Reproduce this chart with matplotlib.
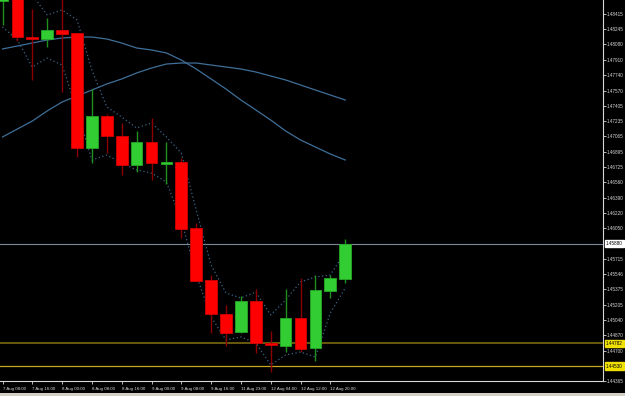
import matplotlib
matplotlib.use("Agg")
import matplotlib.pyplot as plt
import numpy as np

# ---------------- data ----------------
time_labels = ["7 Aug 08:00", "7 Aug 16:00", "8 Aug 00:00", "8 Aug 08:00", "8 Aug 16:00",
               "9 Aug 00:00", "9 Aug 08:00", "9 Aug 16:00", "11 Aug 23:00", "12 Aug 04:00",
               "12 Aug 12:00", "12 Aug 20:00"]
label_every = 2

opens  = [1.48558, 1.48680, 1.48161, 1.48139, 1.48238, 1.48205, 1.46936, 1.47289, 1.47069, 1.46749,
          1.47003, 1.46760, 1.46782, 1.46053, 1.45480, 1.45105, 1.44906, 1.45248, 1.44785, 1.44752,
          1.45060, 1.44730, 1.45358, 1.45491]
highs  = [1.48790, 1.48735, 1.48470, 1.48371, 1.48700, 1.48205, 1.47587, 1.47311, 1.47212, 1.47124,
          1.47267, 1.47003, 1.46826, 1.46109, 1.45535, 1.45204, 1.45303, 1.45380, 1.44917, 1.45380,
          1.45502, 1.45535, 1.45535, 1.45932]
lows   = [1.48294, 1.48117, 1.47687, 1.48051, 1.47554, 1.46837, 1.46771, 1.46881, 1.46638, 1.46671,
          1.46583, 1.46539, 1.45943, 1.45469, 1.44895, 1.44752, 1.44895, 1.44674, 1.44465, 1.44685,
          1.44685, 1.44586, 1.45281, 1.45447]
closes = [1.48735, 1.48161, 1.48139, 1.48238, 1.48194, 1.46936, 1.47289, 1.47069, 1.46749, 1.47003,
          1.46771, 1.46782, 1.46042, 1.45469, 1.45105, 1.44895, 1.45248, 1.44785, 1.44763, 1.45060,
          1.44719, 1.45369, 1.45502, 1.45880]

ma_a = [1.48029, 1.48062, 1.48095, 1.48128, 1.48150, 1.48161, 1.48161, 1.48139, 1.48095, 1.48040,
        1.48018, 1.47985, 1.47907, 1.47808, 1.47698, 1.47587, 1.47466, 1.47356, 1.47245, 1.47124,
        1.47025, 1.46947, 1.46870, 1.46804]
ma_b = [1.47058, 1.47146, 1.47234, 1.47345, 1.47444, 1.47510, 1.47576, 1.47643, 1.47698, 1.47764,
        1.47819, 1.47863, 1.47874, 1.47874, 1.47852, 1.47830, 1.47808, 1.47775, 1.47731, 1.47687,
        1.47632, 1.47576, 1.47521, 1.47466]
env_upper = [1.48790, 1.48735, 1.48625, 1.48404, 1.48459, 1.48349, 1.47797, 1.47389, 1.47278, 1.47157,
             1.47212, 1.47058, 1.46881, 1.46252, 1.45645, 1.45336, 1.45281, 1.45347, 1.45094, 1.45259,
             1.45458, 1.45513, 1.45535, 1.45789]
env_lower = [1.48272, 1.48128, 1.47830, 1.47929, 1.47852, 1.47356, 1.46804, 1.46859, 1.46771, 1.46694,
             1.46660, 1.46561, 1.46142, 1.45535, 1.45071, 1.44818, 1.44851, 1.44785, 1.44542, 1.44652,
             1.44685, 1.44630, 1.45115, 1.45391]

price_ticks = [1.48415, 1.48245, 1.48080, 1.47910, 1.47740, 1.47570, 1.47405, 1.47235, 1.47065,
               1.46895, 1.46725, 1.46560, 1.46390, 1.46220, 1.46050, 1.45715, 1.45546,
               1.45375, 1.45205, 1.45040, 1.44870, 1.44700, 1.44365]
current_price = 1.45880
level_1 = 1.44782
level_2 = 1.44530
y_bottom, y_top = 1.44365, 1.485695

# ---------------- figure ----------------
W, H = 625, 396
fig = plt.figure(figsize=(W / 100, H / 100), dpi=100, facecolor="black")
ax = fig.add_axes([0, 15 / H, 603 / W, 381 / H], facecolor="black")

n = len(opens)
x = np.arange(n)
o = np.array(opens); c = np.array(closes); h = np.array(highs); l = np.array(lows)
up = c >= o

# moving averages
ax.plot(x, ma_a, color="#3f6f98", lw=0.9, zorder=1)
ax.plot(x, ma_b, color="#3f6f98", lw=0.9, zorder=1)
# envelope dotted
ax.plot(x, env_upper, color="#3c6486", lw=0.9, ls=(0, (1, 2)), zorder=1)
ax.plot(x, env_lower, color="#3c6486", lw=0.9, ls=(0, (1, 2)), zorder=1)

# horizontal levels
ax.axhline(current_price, color="#7c8898", lw=0.8, zorder=0.5)
ax.axhline(level_1, color="#7a6a10", lw=1.2, zorder=0.5)
ax.axhline(level_2, color="#c8a820", lw=0.9, zorder=0.5)

# candles
wick_col = np.where(up, "#1f8f1f", "#8b0000")
body_col = np.where(up, "#32cd32", "#ff0000")
edge_col = np.where(up, "#28a828", "#d00000")
ax.vlines(x, l, h, colors=wick_col, lw=1.0, zorder=2)
bottoms = np.minimum(o, c)
heights = np.maximum(np.abs(c - o), 0.00002)
ax.bar(x, heights, bottom=bottoms, width=0.78, color=body_col, edgecolor=edge_col, linewidth=0.6, zorder=3)

ax.set_xlim((0 - 2.5) / 14.9, (603 - 2.5) / 14.9)
ax.set_ylim(y_bottom, y_top)

# axes styling
for s in ["top", "left"]:
    ax.spines[s].set_visible(False)
for s in ["bottom", "right"]:
    ax.spines[s].set_color("#d8d8d8")
    ax.spines[s].set_linewidth(0.8)

ax.yaxis.tick_right()
ax.set_yticks(price_ticks)
ax.set_yticklabels([f"{v:.5f}" for v in price_ticks])
ax.tick_params(axis="y", colors="#d8d8d8", labelsize=3.3, length=2, width=0.6, pad=1,
               labelfontfamily="Liberation Sans")
tick_idx = list(range(0, n, label_every))[:len(time_labels)]
ax.set_xticks(tick_idx)
ax.set_xticklabels(time_labels, ha="left")
ax.tick_params(axis="x", colors="#d8d8d8", labelsize=3.2, length=2, width=0.6, pad=2,
               labelfontfamily="Liberation Sans")

# price label boxes
def price_box(val, fc, tc):
    ax.annotate(f"{val:.5f}", xy=(1.0, val), xycoords=("axes fraction", "data"),
                xytext=(2.0, 0), textcoords="offset points", ha="left", va="center",
                fontsize=3.3, family="Liberation Sans", color=tc, zorder=10,
                bbox=dict(boxstyle="square,pad=0.25", fc=fc, ec=fc), annotation_clip=False)

price_box(current_price, "white", "black")
price_box(level_1, "#f0e000", "black")
price_box(level_2, "#f0e000", "black")

# bottom window strip
fig.patches.append(plt.Rectangle((0, 0), 1, 3 / H, transform=fig.transFigure,
                                 fc="#d4d0c8", ec="none", zorder=-1))

fig.savefig("out.png", dpi=100, facecolor="black")
